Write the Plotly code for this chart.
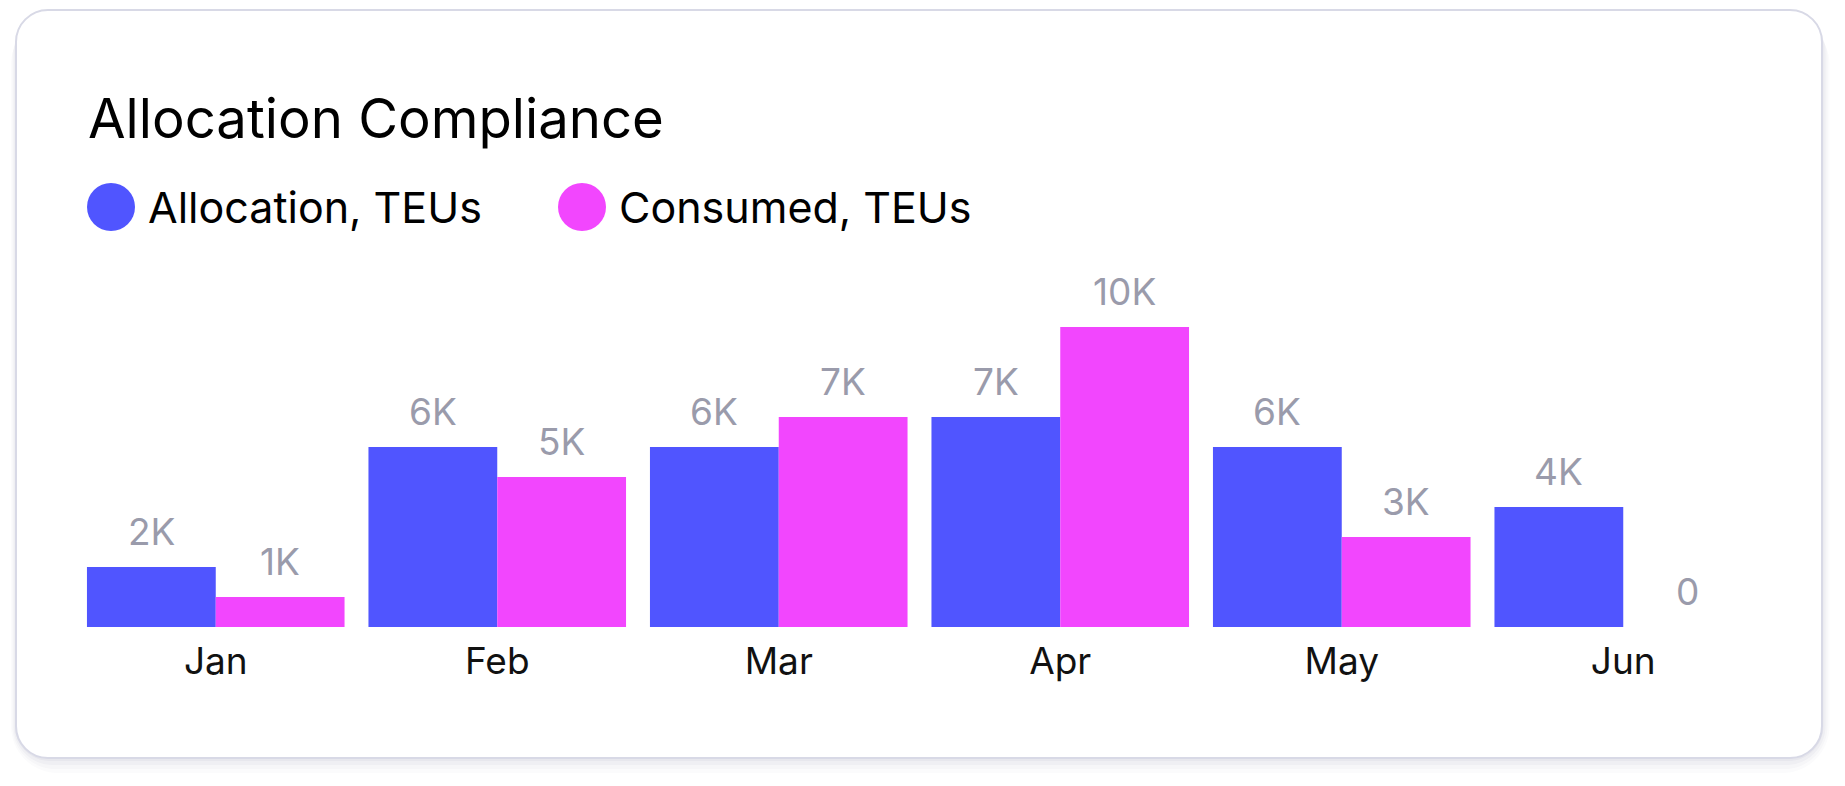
import plotly.graph_objects as go

# data
months = ["Jan", "Feb", "Mar", "Apr", "May", "Jun"]
allocation = [2000, 6000, 6000, 7000, 6000, 4000]
consumed = [1000, 5000, 7000, 10000, 3000, 0]
alloc_labels = ["2K", "6K", "6K", "7K", "6K", "4K"]
consumed_labels = ["1K", "5K", "7K", "10K", "3K", "0"]

BLUE = "#5055FF"
PINK = "#F246FE"
LABEL_GREY = "#9A9BAB"
FONT = "Inter, Roboto, sans-serif"

# page is 1845x786, the html body adds an 8px margin
OFF = 8
W, H = 1845 - OFF, 786 - OFF
# plot area in page pixels: x 75..1764, y 267..627
L, T = 75 - OFF, 267 - OFF
PW, PH = 1689, 360
R, B = W - L - PW, H - T - PH


def px(x):
    # page pixel -> paper x
    return (x - OFF - L) / PW


def py(y):
    # page pixel -> paper y
    return (T + PH - (y - OFF)) / PH


def rounded_rect(x0, y0, x1, y1, r):
    k = 0.5523 * r
    pts = [
        ("M", [(x0 + r, y0)]),
        ("L", [(x1 - r, y0)]),
        ("C", [(x1 - r + k, y0), (x1, y0 + r - k), (x1, y0 + r)]),
        ("L", [(x1, y1 - r)]),
        ("C", [(x1, y1 - r + k), (x1 - r + k, y1), (x1 - r, y1)]),
        ("L", [(x0 + r, y1)]),
        ("C", [(x0 + r - k, y1), (x0, y1 - r + k), (x0, y1 - r)]),
        ("L", [(x0, y0 + r)]),
        ("C", [(x0, y0 + r - k), (x0 + r - k, y0), (x0 + r, y0)]),
    ]
    out = ""
    for cmd, cs in pts:
        out += cmd + " " + " ".join(f"{px(a):.5f},{py(b):.5f}" for a, b in cs) + " "
    return out + "Z"


fig = go.Figure()
fig.add_trace(go.Bar(x=months, y=allocation, name="Allocation, TEUs",
                     marker=dict(color=BLUE, line=dict(width=0))))
fig.add_trace(go.Bar(x=months, y=consumed, name="Consumed, TEUs",
                     marker=dict(color=PINK, line=dict(width=0))))

shapes = []
# soft shadow under the card
for i, op in enumerate([0.035, 0.03, 0.025, 0.02]):
    d = 3 + i * 4
    shapes.append(dict(type="path", xref="paper", yref="paper", layer="below",
                       path=rounded_rect(16 - d / 3, 10 + d / 2, 1822 + d / 2, 758 + d, 32 + d),
                       fillcolor=f"rgba(40,40,80,{op})", line=dict(width=0)))
# card
shapes.append(dict(type="path", xref="paper", yref="paper", layer="below",
                   path=rounded_rect(16, 10, 1822, 758, 32),
                   fillcolor="white", line=dict(color="#D8D9E6", width=2)))

# legend dots
for cx, col in [(111, BLUE), (582, PINK)]:
    shapes.append(dict(type="circle", xref="paper", yref="paper",
                       x0=px(cx - 24), x1=px(cx + 24), y0=py(207 + 24), y1=py(207 - 24),
                       fillcolor=col, line=dict(width=0)))

annotations = [
    dict(text="Allocation Compliance", xref="paper", yref="paper", x=px(86), y=py(118),
         xanchor="left", yanchor="middle", showarrow=False,
         font=dict(family=FONT, size=54.5, color="#000000")),
    dict(text="Allocation, TEUs", xref="paper", yref="paper", x=px(146), y=py(207),
         xanchor="left", yanchor="middle", showarrow=False,
         font=dict(family=FONT, size=43, color="#000000")),
    dict(text="Consumed, TEUs", xref="paper", yref="paper", x=px(617), y=py(207),
         xanchor="left", yanchor="middle", showarrow=False,
         font=dict(family=FONT, size=43, color="#000000")),
]

# value labels above each bar
half = PW / len(months) * (1 - 0.085) / 4
for m, v, t in zip(months, allocation, alloc_labels):
    annotations.append(dict(x=m, y=v, text=t, xshift=-half, yshift=11, yanchor="bottom",
                            showarrow=False, font=dict(family=FONT, size=37, color=LABEL_GREY)))
for m, v, t in zip(months, consumed, consumed_labels):
    annotations.append(dict(x=m, y=v, text=t, xshift=half, yshift=11, yanchor="bottom",
                            showarrow=False, font=dict(family=FONT, size=37, color=LABEL_GREY)))

fig.update_layout(
    width=W, height=H,
    margin=dict(l=L, r=R, t=T, b=B),
    paper_bgcolor="white", plot_bgcolor="rgba(0,0,0,0)",
    barmode="group", bargap=0.085, bargroupgap=0,
    showlegend=False,
    shapes=shapes, annotations=annotations,
    font=dict(family=FONT),
)
fig.update_xaxes(showgrid=False, showline=False, zeroline=False, ticks="",
                 ticklabelstandoff=9,
                 tickfont=dict(family=FONT, size=37, color="#111111"))
fig.update_yaxes(visible=False, range=[0, 12000], fixedrange=True)

fig.write_html("out.html")
